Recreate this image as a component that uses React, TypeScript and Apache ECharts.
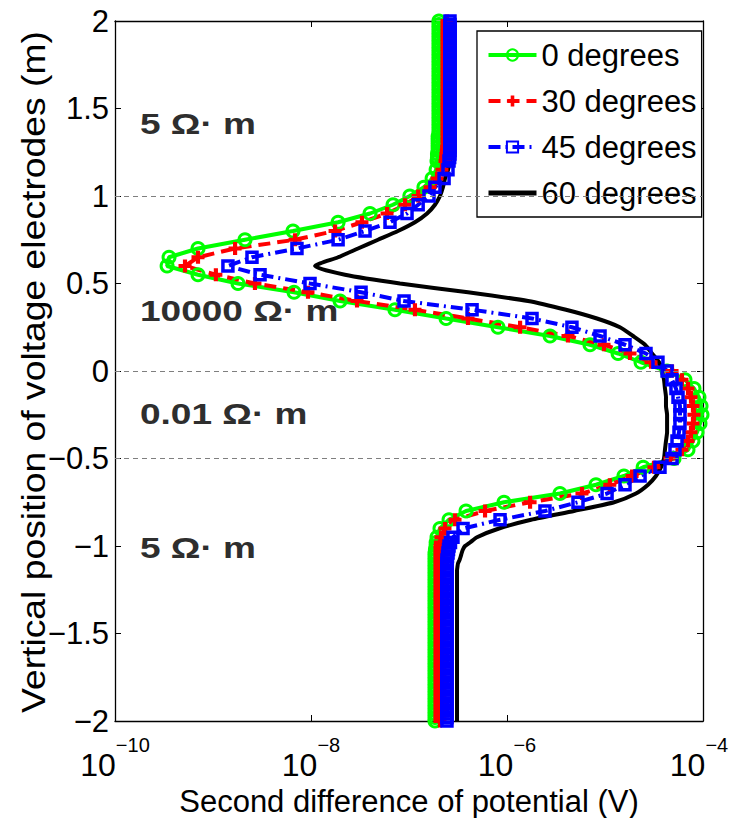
import React, { useEffect, useRef } from "react";
import * as echarts from "echarts";

// Vertical positions of the voltage electrodes (m)
const positions = [
  2, 1.98, 1.96, 1.94, 1.92, 1.9, 1.88, 1.86, 1.84, 1.82, 1.8, 1.78, 1.76, 1.74, 1.72, 1.7, 1.68, 1.66, 1.64, 1.62,
  1.6, 1.58, 1.56, 1.54, 1.52, 1.5, 1.48, 1.46, 1.44, 1.42, 1.4, 1.38, 1.36, 1.34, 1.32, 1.3, 1.28, 1.26, 1.24, 1.22,
  1.2, 1.15, 1.1, 1.05, 1, 0.95, 0.9, 0.85, 0.8, 0.75, 0.7, 0.65, 0.6, 0.55, 0.5, 0.45, 0.4, 0.35, 0.3, 0.25, 0.2, 0.15,
  0.1, 0.05, 0, -0.05, -0.1, -0.15, -0.2, -0.25, -0.3, -0.35, -0.4, -0.45, -0.5, -0.55, -0.6, -0.65, -0.7, -0.75, -0.8,
  -0.85, -0.9, -0.95,
  -0.98, -1, -1.02, -1.04, -1.06, -1.08, -1.1, -1.12, -1.14, -1.16, -1.18, -1.2, -1.22, -1.24, -1.26, -1.28, -1.3, -1.32,
  -1.34, -1.36, -1.38, -1.4, -1.42, -1.44, -1.46, -1.48, -1.5, -1.52, -1.54, -1.56, -1.58, -1.6, -1.62, -1.64, -1.66,
  -1.68, -1.7, -1.72, -1.74, -1.76, -1.78, -1.8, -1.82, -1.84, -1.86, -1.88, -1.9, -1.92, -1.94, -1.96, -1.98, -2,
];

// Second difference of potential (V) for each dip angle, one value per position
const deg0 = [
  2.02e-7, 2.02e-7, 2.02e-7, 2.02e-7, 2.02e-7, 2.02e-7, 2.02e-7, 2.02e-7, 2.02e-7, 2.02e-7, 2.02e-7, 2.02e-7, 2.02e-7, 2.02e-7, 2.02e-7, 2.02e-7, 2.02e-7, 2.02e-7, 2.02e-7, 2.02e-7,
  2.02e-7, 2.02e-7, 2.02e-7, 2.02e-7, 2.02e-7, 2.02e-7, 2.02e-7, 2.02e-7, 2.02e-7, 2.02e-7, 2.02e-7, 2.02e-7, 2.02e-7, 1.98e-7, 1.98e-7, 1.98e-7, 1.98e-7, 1.98e-7, 1.95e-7, 1.95e-7,
  1.93e-7, 1.89e-7, 1.72e-7, 1.42e-7, 1.02e-7, 6.87e-8, 4.0e-8, 1.89e-8, 6.55e-9, 2.12e-9, 7.03e-10, 3.56e-10, 3.4e-10, 7.03e-10, 1.8e-9, 6.71e-9, 1.98e-8, 7.19e-8, 2.39e-7, 8.09e-7, 2.75e-6, 7.03e-6,
  1.36e-5, 2.33e-5, 4.3e-5, 6.55e-5, 8.09e-5, 9.1e-5, 9.55e-5, 9.77e-5, 9.32e-5, 8.69e-5, 7.9e-5, 7.03e-5, 5.06e-5, 2.45e-5, 1.56e-5, 8.09e-6, 3.47e-6, 9.32e-7, 3.82e-7,
  2.56e-7, 2.07e-7, 1.93e-7,
  1.89e-7, 1.89e-7, 1.86e-7, 1.84e-7, 1.84e-7, 1.84e-7, 1.84e-7, 1.84e-7, 1.84e-7, 1.84e-7, 1.84e-7, 1.84e-7, 1.84e-7, 1.84e-7, 1.84e-7, 1.84e-7, 1.84e-7, 1.84e-7,
  1.84e-7, 1.84e-7, 1.84e-7, 1.84e-7, 1.84e-7, 1.84e-7, 1.84e-7, 1.84e-7, 1.84e-7, 1.84e-7, 1.84e-7, 1.84e-7, 1.84e-7, 1.84e-7, 1.84e-7, 1.84e-7, 1.84e-7,
  1.84e-7, 1.84e-7, 1.84e-7, 1.84e-7, 1.84e-7, 1.84e-7, 1.84e-7, 1.84e-7, 1.84e-7, 1.84e-7, 1.84e-7, 1.84e-7, 1.84e-7, 1.84e-7, 1.84e-7, 1.84e-7, 1.84e-7,
];
const deg30 = [
  2.44e-7, 2.44e-7, 2.44e-7, 2.44e-7, 2.44e-7, 2.44e-7, 2.44e-7, 2.44e-7, 2.44e-7, 2.44e-7, 2.44e-7, 2.44e-7, 2.44e-7, 2.44e-7, 2.44e-7, 2.44e-7, 2.44e-7, 2.44e-7, 2.44e-7, 2.44e-7,
  2.44e-7, 2.44e-7, 2.44e-7, 2.44e-7, 2.44e-7, 2.44e-7, 2.44e-7, 2.44e-7, 2.44e-7, 2.44e-7, 2.44e-7, 2.44e-7, 2.44e-7, 2.44e-7, 2.44e-7, 2.44e-7, 2.42e-7, 2.4e-7, 2.38e-7, 2.36e-7,
  2.33e-7, 2.17e-7, 1.93e-7, 1.64e-7, 1.24e-7, 9.1e-8, 5.97e-8, 3.31e-8, 1.76e-8, 6.87e-9, 1.68e-9, 7.03e-10, 5.18e-10, 1.07e-9, 2.68e-9, 9.32e-9, 2.95e-8, 1.15e-7, 4.0e-7, 1.36e-6, 4.19e-6, 9.77e-6,
  1.8e-5, 2.95e-5, 4.83e-5, 6.1e-5, 7.03e-5, 7.54e-5, 7.9e-5, 8.09e-5, 7.9e-5, 7.54e-5, 7.03e-5, 6.1e-5, 4.6e-5, 3.16e-5, 1.89e-5, 1.12e-5, 5.82e-6, 1.72e-6, 5.97e-7,
  2.95e-7, 2.33e-7, 2.12e-7,
  2.09e-7, 2.07e-7, 2.07e-7, 2.07e-7, 2.07e-7, 2.07e-7, 2.07e-7, 2.07e-7, 2.07e-7, 2.07e-7, 2.07e-7, 2.07e-7, 2.07e-7, 2.07e-7, 2.07e-7, 2.07e-7, 2.07e-7, 2.07e-7,
  2.07e-7, 2.07e-7, 2.07e-7, 2.07e-7, 2.07e-7, 2.07e-7, 2.07e-7, 2.07e-7, 2.07e-7, 2.07e-7, 2.07e-7, 2.07e-7, 2.07e-7, 2.07e-7, 2.07e-7, 2.07e-7, 2.07e-7,
  2.07e-7, 2.07e-7, 2.07e-7, 2.07e-7, 2.07e-7, 2.07e-7, 2.07e-7, 2.07e-7, 2.07e-7, 2.07e-7, 2.07e-7, 2.07e-7, 2.07e-7, 2.07e-7, 2.07e-7, 2.07e-7, 2.07e-7,
];
const deg45 = [
  2.62e-7, 2.62e-7, 2.62e-7, 2.62e-7, 2.62e-7, 2.62e-7, 2.62e-7, 2.62e-7, 2.62e-7, 2.62e-7, 2.62e-7, 2.62e-7, 2.62e-7, 2.62e-7, 2.62e-7, 2.62e-7, 2.62e-7, 2.62e-7, 2.62e-7, 2.62e-7,
  2.62e-7, 2.62e-7, 2.62e-7, 2.62e-7, 2.62e-7, 2.62e-7, 2.62e-7, 2.62e-7, 2.62e-7, 2.62e-7, 2.62e-7, 2.62e-7, 2.62e-7, 2.62e-7, 2.62e-7, 2.62e-7, 2.62e-7, 2.62e-7, 2.62e-7, 2.6e-7,
  2.56e-7, 2.5e-7, 2.28e-7, 1.84e-7, 1.6e-7, 1.24e-7, 9.55e-8, 6.4e-8, 3.56e-8, 1.89e-8, 7.19e-9, 2.5e-9, 1.42e-9, 3.02e-9, 9.77e-9, 3.24e-8, 8.9e-8, 4.4e-7, 1.8e-6, 4.6e-6, 8.9e-6, 1.6e-5,
  2.62e-5, 3.47e-5, 4.3e-5, 4.83e-5, 5.3e-5, 5.56e-5, 5.82e-5, 5.82e-5, 5.82e-5, 5.69e-5, 5.43e-5, 5.18e-5, 4.83e-5, 3.64e-5, 2.28e-5, 1.6e-5, 1.05e-5, 5.3e-6, 2.44e-6,
  8.49e-7, 3.56e-7, 2.81e-7,
  2.65e-7, 2.56e-7, 2.53e-7, 2.5e-7, 2.47e-7, 2.44e-7, 2.44e-7, 2.44e-7, 2.44e-7, 2.44e-7, 2.44e-7, 2.44e-7, 2.44e-7, 2.44e-7, 2.44e-7, 2.44e-7, 2.44e-7, 2.44e-7,
  2.44e-7, 2.44e-7, 2.44e-7, 2.44e-7, 2.44e-7, 2.44e-7, 2.44e-7, 2.44e-7, 2.44e-7, 2.44e-7, 2.44e-7, 2.44e-7, 2.44e-7, 2.44e-7, 2.44e-7, 2.44e-7, 2.44e-7,
  2.44e-7, 2.44e-7, 2.44e-7, 2.44e-7, 2.44e-7, 2.44e-7, 2.44e-7, 2.44e-7, 2.44e-7, 2.44e-7, 2.44e-7, 2.44e-7, 2.44e-7, 2.44e-7, 2.44e-7, 2.44e-7, 2.44e-7,
];
const deg60 = [
  2.75e-7, 2.75e-7, 2.75e-7, 2.75e-7, 2.75e-7, 2.75e-7, 2.75e-7, 2.75e-7, 2.75e-7, 2.75e-7, 2.75e-7, 2.75e-7, 2.75e-7, 2.75e-7, 2.75e-7, 2.75e-7, 2.75e-7, 2.75e-7, 2.75e-7, 2.75e-7,
  2.75e-7, 2.75e-7, 2.75e-7, 2.75e-7, 2.75e-7, 2.75e-7, 2.75e-7, 2.75e-7, 2.75e-7, 2.75e-7, 2.75e-7, 2.75e-7, 2.75e-7, 2.75e-7, 2.75e-7, 2.75e-7, 2.75e-7, 2.75e-7, 2.7e-7, 2.66e-7,
  2.62e-7, 2.5e-7, 2.33e-7, 2.22e-7, 2.07e-7, 1.84e-7, 1.53e-7, 1.15e-7, 7.72e-8, 4.83e-8, 3.02e-8, 1.89e-8, 1.1e-8, 2.22e-8, 8.09e-8, 4.0e-7, 1.64e-6, 4.0e-6, 8.28e-6, 1.42e-5, 1.93e-5, 2.56e-5,
  3.02e-5, 3.56e-5, 3.82e-5, 4.0e-5, 4.09e-5, 4.19e-5, 4.19e-5, 4.3e-5, 4.3e-5, 4.3e-5, 4.19e-5, 4.09e-5, 4.0e-5, 3.73e-5, 3.31e-5, 2.75e-5, 2.07e-5, 1.24e-5, 4.83e-6,
  1.76e-6, 8.28e-7, 4.94e-7,
  4.2e-7, 3.73e-7, 3.55e-7, 3.45e-7, 3.37e-7, 3.28e-7, 3.16e-7, 3.12e-7, 3.09e-7, 3.09e-7, 3.09e-7, 3.09e-7, 3.09e-7, 3.09e-7, 3.09e-7, 3.09e-7, 3.09e-7, 3.09e-7,
  3.09e-7, 3.09e-7, 3.09e-7, 3.09e-7, 3.09e-7, 3.09e-7, 3.09e-7, 3.09e-7, 3.09e-7, 3.09e-7, 3.09e-7, 3.09e-7, 3.09e-7, 3.09e-7, 3.09e-7, 3.09e-7, 3.09e-7,
  3.09e-7, 3.09e-7, 3.09e-7, 3.09e-7, 3.09e-7, 3.09e-7, 3.09e-7, 3.09e-7, 3.09e-7, 3.09e-7, 3.09e-7, 3.09e-7, 3.09e-7, 3.09e-7, 3.09e-7, 3.09e-7, 3.09e-7,
];

const seriesNames = ["0 degrees", "30 degrees", "45 degrees", "60 degrees"];
const layerBoundaries = [1, 0, -0.5];
const layerLabels = [
  { text: "5 Ω· m", y: 124 },
  { text: "10000 Ω· m", y: 311 },
  { text: "0.01 Ω· m", y: 414 },
  { text: "5 Ω· m", y: 548 },
];

const SANS = "'Liberation Sans', Arial, Helvetica, sans-serif";
const PLUS = "path://M3.4,0H6.6V3.4H10V6.6H6.6V10H3.4V6.6H0V3.4H3.4Z";

function pairs(xs: number[]) {
  return xs.map((x, i) => [x, positions[i]]);
}

export default function App() {
  const ref = useRef<HTMLDivElement>(null);
  useEffect(() => {
    if (!ref.current) return;
    const chart = echarts.init(ref.current, null, { renderer: "svg" });
    const fmtX = (v: number) => {
      const e = Math.round(Math.log10(v));
      const sup = (e < 0 ? "−" : "") + Math.abs(e);
      return e === -4 ? "{b|10}{e|" + sup + "}" : "{b|10}{s|" + sup + "}";
    };
    const fmtY = (v: number) => (v < 0 ? "−" + Math.abs(v) : String(v));
    const axisLine = { show: true, onZero: false, lineStyle: { color: "#000", width: 1.3 } };
    const tick = { show: true, inside: true, length: 6, lineStyle: { color: "#000", width: 1 } };
    chart.setOption({
      animation: false,
      backgroundColor: "#fff",
      grid: { left: 115, right: 29, top: 21, bottom: 97, containLabel: false, outerBoundsMode: "none" },
      xAxis: [
        {
          type: "log",
          logBase: 10,
          min: 1e-10,
          max: 1e-4,
          interval: 2,
          position: "bottom",
          axisLine,
          axisTick: tick,
          splitLine: { show: false },
          axisLabel: {
            formatter: fmtX,
            margin: 14,
            rich: {
              b: { fontFamily: SANS, fontSize: 32, color: "#000", verticalAlign: "bottom" },
              s: { fontFamily: SANS, fontSize: 20, color: "#000", verticalAlign: "bottom", padding: [0, 0, 26, 0] },
              e: { fontFamily: SANS, fontSize: 20, color: "#000", verticalAlign: "bottom", padding: [0, 8, 26, 0] },
            },
          },
          name: "Second difference of potential (V)",
          nameLocation: "middle",
          nameGap: 61,
          nameTextStyle: { fontFamily: SANS, fontSize: 31, color: "#000" },
        },
        {
          type: "log",
          logBase: 10,
          min: 1e-10,
          max: 1e-4,
          interval: 2,
          position: "top",
          axisLine,
          axisTick: tick,
          splitLine: { show: false },
          axisLabel: { show: false },
        },
      ],
      yAxis: [
        {
          type: "value",
          min: -2,
          max: 2,
          interval: 0.5,
          position: "left",
          axisLine,
          axisTick: tick,
          splitLine: { show: false },
          axisLabel: { formatter: fmtY, fontFamily: SANS, fontSize: 31, color: "#000", margin: 6 },
        },
        {
          type: "value",
          min: -2,
          max: 2,
          interval: 0.5,
          position: "right",
          axisLine,
          axisTick: tick,
          splitLine: { show: false },
          axisLabel: { show: false },
        },
      ],
      legend: {
        orient: "vertical",
        left: 477,
        top: 31,
        data: [
          seriesNames[0],
          seriesNames[1],
          seriesNames[2],
          { name: seriesNames[3], itemStyle: { opacity: 0 }, lineStyle: { width: 5 } },
        ],
        itemWidth: 48,
        itemHeight: 14,
        itemGap: 6,
        padding: [4, 5, 4, 9],
        borderColor: "#000",
        borderWidth: 1.3,
        borderRadius: 0,
        backgroundColor: "#fff",
        lineStyle: { width: 4 },
        textStyle: { fontFamily: SANS, fontSize: 31, color: "#000", lineHeight: 40 },
      },
      series: [
        {
          name: seriesNames[0],
          type: "line",
          data: pairs(deg0),
          clip: false,
          symbol: "circle",
          symbolSize: 12,
          lineStyle: { color: "#00ff00", width: 4, type: "solid" },
          itemStyle: { color: "rgba(255,255,255,0)", borderColor: "#00ff00", borderWidth: 3 },
          markLine: {
            silent: true,
            symbol: "none",
            label: { show: false },
            lineStyle: { color: "#7f7f7f", width: 1, type: [5, 4] },
            data: layerBoundaries.map((v) => ({ yAxis: v })),
          },
        },
        {
          name: seriesNames[1],
          type: "line",
          data: pairs(deg30),
          clip: false,
          symbol: PLUS,
          symbolSize: 13,
          lineStyle: { color: "#ff0000", width: 4, type: [12, 7] },
          itemStyle: { color: "#ff0000" },
        },
        {
          name: seriesNames[2],
          type: "line",
          data: pairs(deg45),
          clip: false,
          symbol: "rect",
          symbolSize: 10,
          lineStyle: { color: "#0000ff", width: 4, type: [12, 5, 2, 5] },
          itemStyle: { color: "rgba(255,255,255,0)", borderColor: "#0000ff", borderWidth: 3.5 },
        },
        {
          name: seriesNames[3],
          type: "line",
          data: pairs(deg60),
          clip: false,
          symbol: "none",
          smooth: 0.2,
          lineStyle: { color: "#000000", width: 4, type: "solid" },
          itemStyle: { color: "#000000" },
        },
      ],
      graphic: [
        {
          type: "text",
          x: 33,
          y: 372,
          rotation: Math.PI / 2,
          scaleX: 1.13,
          style: {
            text: "Vertical position of voltage electrodes (m)",
            font: "33px " + SANS,
            fill: "#000",
            textAlign: "center",
            textVerticalAlign: "middle",
          },
        },
        ...layerLabels.map((l) => ({
          type: "text",
          x: 140,
          y: l.y,
          scaleY: 0.8,
          style: {
            text: l.text,
            font: "bold 37px " + SANS,
            fill: "#2e2e2e",
            textAlign: "left",
            textVerticalAlign: "middle",
          },
        })),
      ],
    });
    return () => chart.dispose();
  }, []);
  return <div ref={ref} style={{ position: "absolute", left: 0, top: 0, width: 732, height: 818 }} />;
}
